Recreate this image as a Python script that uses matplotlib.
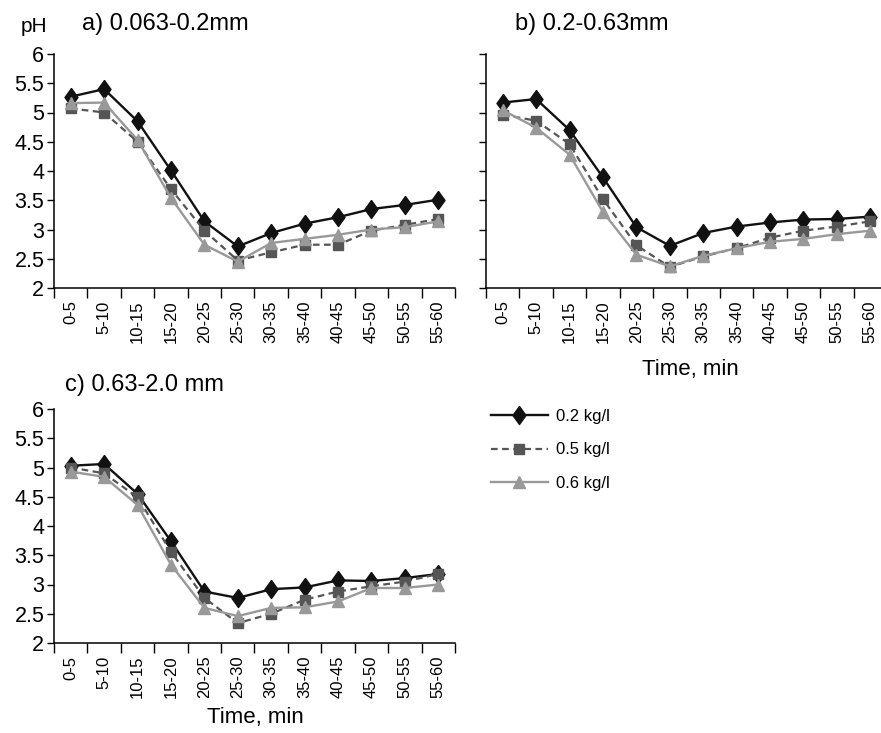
import numpy as np
import matplotlib
matplotlib.use("Agg")
import matplotlib.pyplot as plt
from matplotlib.ticker import FixedLocator, NullFormatter

plt.rcParams.update({
    "font.family": ["Liberation Sans", "DejaVu Sans"],
    "axes.spines.top": False,
    "axes.spines.right": False,
})

INTERVALS = ["0-5", "5-10", "10-15", "15-20", "20-25", "25-30",
             "30-35", "35-40", "40-45", "45-50", "50-55", "55-60"]
LEGEND_LABELS = ["0.2 kg/l", "0.5 kg/l", "0.6 kg/l"]

# panel a) 0.063-0.2 mm
a_02 = [5.27, 5.40, 4.85, 4.01, 3.14, 2.71, 2.94, 3.10, 3.21, 3.35, 3.42, 3.51]
a_05 = [5.07, 5.00, 4.50, 3.69, 2.98, 2.47, 2.61, 2.74, 2.74, 2.98, 3.08, 3.18]
a_06 = [5.16, 5.17, 4.53, 3.54, 2.74, 2.45, 2.77, 2.84, 2.91, 3.00, 3.04, 3.14]

# panel b) 0.2-0.63 mm
b_02 = [5.17, 5.23, 4.70, 3.89, 3.04, 2.72, 2.94, 3.05, 3.12, 3.17, 3.18, 3.22]
b_05 = [4.96, 4.86, 4.46, 3.52, 2.73, 2.36, 2.54, 2.68, 2.86, 2.98, 3.05, 3.14]
b_06 = [5.04, 4.74, 4.28, 3.30, 2.57, 2.37, 2.55, 2.68, 2.79, 2.84, 2.92, 2.98]

# panel c) 0.63-2.0 mm
c_02 = [5.03, 5.06, 4.55, 3.74, 2.88, 2.77, 2.92, 2.95, 3.07, 3.06, 3.11, 3.18]
c_05 = [5.00, 4.90, 4.49, 3.56, 2.77, 2.34, 2.50, 2.74, 2.88, 2.97, 3.05, 3.18]
c_06 = [4.93, 4.84, 4.36, 3.34, 2.60, 2.46, 2.60, 2.61, 2.71, 2.94, 2.94, 3.00]

# slightly narrow diamond, like the original
DIAMOND = [(0, 1), (0.72, 0), (0, -1), (-0.72, 0), (0, 1)]

STYLES = [
    dict(color="#111111", ls="-", lw=1.7, marker=DIAMOND, ms=13, mfc="#111111", mec="#111111"),
    dict(color="#555555", ls=(0, (3, 2)), lw=1.6, marker="s", ms=7.5, mfc="#555555", mec="#555555"),
    dict(color="#999999", ls="-", lw=1.7, marker="^", ms=8, mfc="#999999", mec="#999999"),
]

W, H = 881, 733
fig = plt.figure(figsize=(W / 100, H / 100), dpi=100)


def px_axes(left, top, right, bottom):
    return fig.add_axes([left / W, 1 - bottom / H, (right - left) / W, (bottom - top) / H])


def panel(ax, series, show_yticklabels=True):
    x = np.arange(len(INTERVALS))
    lines = []
    for vals, st in zip(series, STYLES):
        ln, = ax.plot(x, vals, **st)
        lines.append(ln)
    ax.set_xlim(-0.5, len(INTERVALS) - 0.5)
    ax.set_ylim(2, 6)
    ax.set_yticks(np.arange(2, 6.01, 0.5))
    ax.set_yticklabels([f"{v:g}" for v in np.arange(2, 6.01, 0.5)])
    ax.tick_params(axis="y", direction="out", length=5, width=1, labelsize=15.5, pad=2)
    if not show_yticklabels:
        ax.tick_params(axis="y", labelleft=False)
    # boundary ticks, centred labels
    ax.xaxis.set_major_locator(FixedLocator(np.arange(-0.5, len(INTERVALS), 1.0)))
    ax.xaxis.set_major_formatter(NullFormatter())
    ax.set_xticks(x, minor=True)
    ax.set_xticklabels(INTERVALS, minor=True, rotation=90, fontsize=12)
    ax.tick_params(axis="x", which="major", direction="out", length=7, width=1)
    ax.tick_params(axis="x", which="minor", length=0, pad=9)
    for s in ("left", "bottom"):
        ax.spines[s].set_linewidth(1.1)
    return lines


ax_a = px_axes(54, 54, 455, 288)
panel(ax_a, [a_02, a_05, a_06])
ax_b = px_axes(486, 54, 887, 288)
panel(ax_b, [b_02, b_05, b_06], show_yticklabels=False)
ax_c = px_axes(54, 409, 455, 643)
handles = panel(ax_c, [c_02, c_05, c_06])

fig.text(34 / W, 1 - 27 / H, "pH", fontsize=15, ha="center", va="center")
fig.text(82 / W, 1 - 24 / H, "a) 0.063-0.2mm", fontsize=17, ha="left", va="center")
fig.text(515 / W, 1 - 24 / H, "b) 0.2-0.63mm", fontsize=17, ha="left", va="center")
fig.text(65 / W, 1 - 385 / H, "c) 0.63-2.0 mm", fontsize=17, ha="left", va="center")
fig.text(690 / W, 1 - 370 / H, "Time, min", fontsize=16, ha="center", va="center")
fig.text(255 / W, 1 - 718 / H, "Time, min", fontsize=16, ha="center", va="center")

fig.legend(handles, LEGEND_LABELS, loc="upper left", bbox_to_anchor=(476 / W, 1 - 394 / H),
           frameon=False, handlelength=3.4, handletextpad=0.5, labelspacing=1.1,
           prop=dict(size=12))

fig.savefig("out.png", dpi=100)
